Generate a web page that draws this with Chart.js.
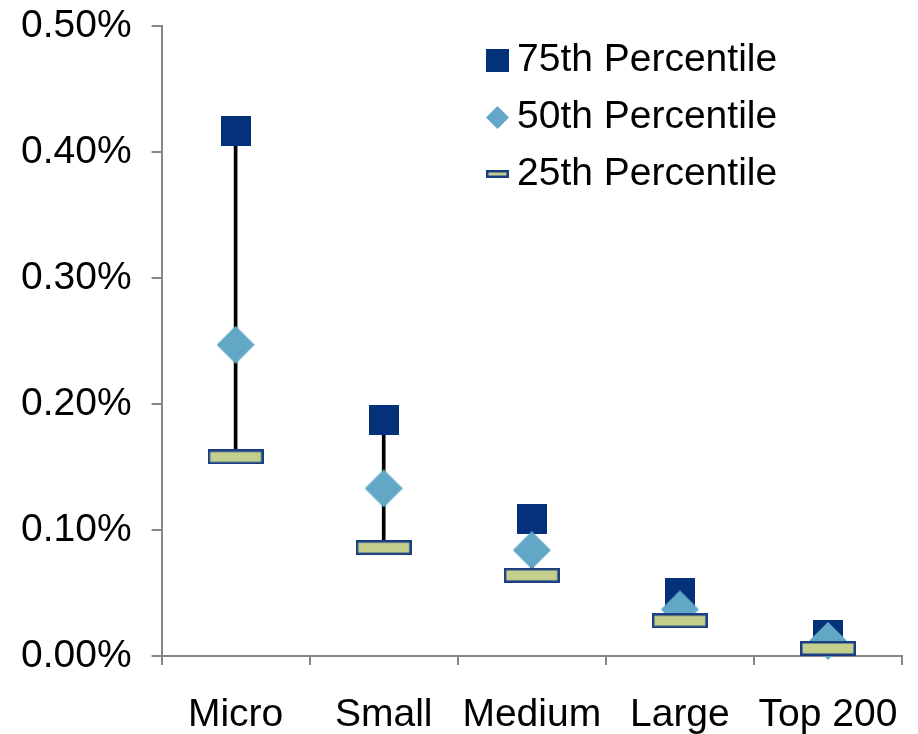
<!DOCTYPE html>
<html>
<head>
<meta charset="utf-8">
<script src="https://cdn.jsdelivr.net/npm/chart.js@4.4.1/dist/chart.umd.min.js"></script>
<style>
  html, body { margin: 0; padding: 0; background: #fff; }
</style>
</head>
<body>
<canvas id="pctChart" width="918" height="734"></canvas>
<script>
// percentiles by size bucket, in percent
const categories = ["Micro", "Small", "Medium", "Large", "Top 200"];
const p75 = [0.417, 0.187, 0.109, 0.050, 0.017];
const p50 = [0.247, 0.133, 0.084, 0.037, 0.012];
const p25 = [0.158, 0.086, 0.064, 0.028, 0.006];
const yTicks = [0, 0.1, 0.2, 0.3, 0.4, 0.5];

const navy = '#04327a';
const teal = '#62a7c6';
const olive = '#c4cf8e';
const rim = '#1b3f82';
const axisGrey = '#878787';
const fontFamily = '"Liberation Sans", Arial, sans-serif';

function marker(w, h, draw) {
  const c = document.createElement('canvas');
  c.width = w;
  c.height = h;
  draw(c.getContext('2d'), w, h);
  return c;
}
function square(s) {
  return marker(s, s, (g, w, h) => {
    g.fillStyle = navy;
    g.fillRect(0, 0, w, h);
  });
}
function diamond(s) {
  return marker(s, s, (g, w, h) => {
    g.fillStyle = teal;
    g.beginPath();
    g.moveTo(w / 2, 0);
    g.lineTo(w, h / 2);
    g.lineTo(w / 2, h);
    g.lineTo(0, h / 2);
    g.closePath();
    g.fill();
  });
}
function plank(w, h) {
  return marker(w, h, (g, w, h) => {
    g.fillStyle = olive;
    g.fillRect(1, 1, w - 2, h - 2);
    g.strokeStyle = rim;
    g.lineWidth = 2.5;
    g.strokeRect(1.25, 1.25, w - 2.5, h - 2.5);
  });
}

const keyItems = [
  { label: '75th Percentile', icon: square(23) },
  { label: '50th Percentile', icon: diamond(23) },
  { label: '25th Percentile', icon: plank(23, 8) }
];

// legend drawn inside the plot, top right
const sideKey = {
  id: 'sideKey',
  afterDraw(chart) {
    const { ctx, chartArea } = chart;
    ctx.save();
    ctx.font = '39px ' + fontFamily;
    ctx.textBaseline = 'middle';
    ctx.fillStyle = '#000';
    keyItems.forEach((item, i) => {
      const y = chartArea.top + 34 + i * 57;
      const x = chartArea.right - 405;
      ctx.drawImage(item.icon, Math.round(x - item.icon.width / 2), Math.round(y - item.icon.height / 2));
      ctx.fillText(item.label, x + 20, y);
    });
    ctx.restore();
  }
};

const ctx = document.getElementById('pctChart').getContext('2d');
new Chart(ctx, {
  type: 'bar',
  data: {
    labels: categories,
    datasets: [
      { type: 'line', label: '75th Percentile', data: p75, showLine: false,
        pointStyle: square(30), pointRadius: 15, clip: false, order: 3 },
      { type: 'line', label: '50th Percentile', data: p50, showLine: false,
        pointStyle: diamond(38), pointRadius: 19, clip: false, order: 2 },
      { type: 'line', label: '25th Percentile', data: p25, showLine: false,
        pointStyle: plank(56, 15), pointRadius: 20, clip: false, order: 1 },
      { type: 'bar', label: 'range', data: p25.map((lo, i) => [lo, p75[i]]),
        backgroundColor: '#000', borderWidth: 0, barThickness: 3, order: 4 }
    ]
  },
  options: {
    responsive: false,
    animation: false,
    layout: { autoPadding: false, padding: { left: 1, right: 16, top: 0, bottom: 0 } },
    plugins: {
      legend: { display: false },
      tooltip: { enabled: false }
    },
    scales: {
      x: {
        offset: true,
        grid: { offset: true, drawOnChartArea: false, tickLength: 9, color: axisGrey, lineWidth: 2 },
        border: { color: axisGrey, width: 2 },
        ticks: { color: '#000', font: { size: 39, family: fontFamily }, padding: 27, maxRotation: 0, autoSkip: false },
        afterFit: s => { s.height = 78; s.paddingRight = 0; s.paddingLeft = 0; }
      },
      y: {
        min: 0,
        max: 0.5,
        afterBuildTicks: axis => { axis.ticks = yTicks.map(v => ({ value: v })); },
        afterFit: s => { s.paddingTop = 26; s.paddingBottom = 0; },
        grid: { drawOnChartArea: false, tickLength: 10, color: axisGrey, lineWidth: 2 },
        border: { color: axisGrey, width: 2 },
        ticks: {
          color: '#000',
          font: { size: 39, family: fontFamily },
          padding: 20,
          callback: v => v.toFixed(2) + '%'
        }
      }
    }
  },
  plugins: [sideKey]
});
</script>
</body>
</html>
